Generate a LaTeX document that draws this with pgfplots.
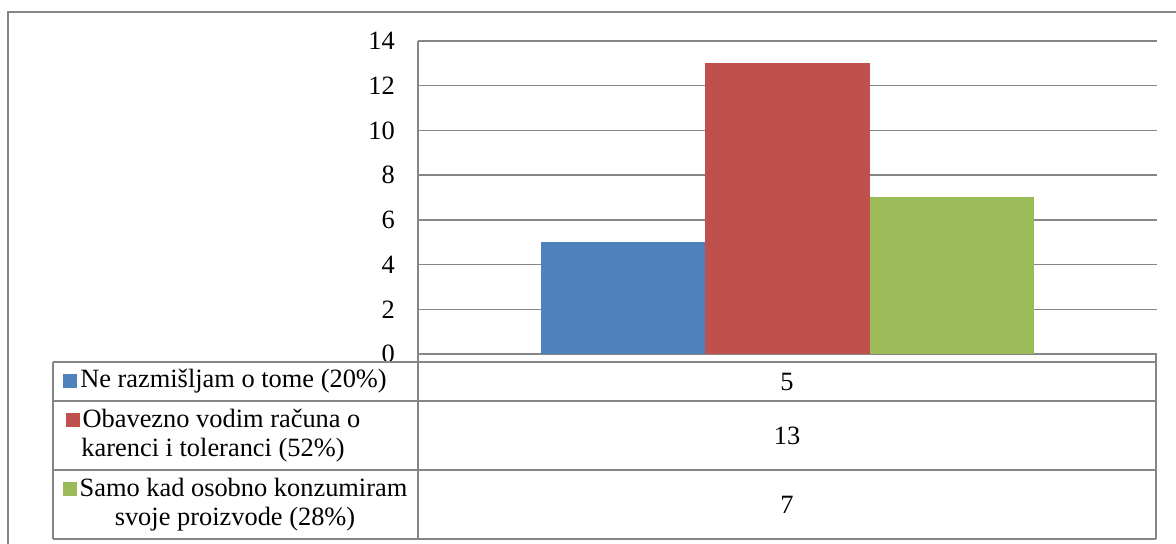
\documentclass[border=0pt]{standalone}
\usepackage{pgfplots}
\pgfplotsset{compat=1.18}
\usepackage{fontspec}
\setmainfont{Liberation Serif}
\definecolor{serA}{RGB}{79,129,189}
\definecolor{serB}{RGB}{192,80,77}
\definecolor{serC}{RGB}{155,187,89}
\definecolor{lin}{RGB}{134,134,134}
\newcommand{\key}[1]{\textcolor{#1}{\rule{14bp}{14bp}}\hspace{3bp}}
\begin{document}
\begin{tikzpicture}[every node/.style={font=\fontsize{26.5}{29}\selectfont}]
\useasboundingbox (0,0) rectangle (1176bp,544bp);
% outer chart frame (right and bottom edges are cut off)
\draw[lin, line width=1.5bp] (8bp,0) -- (8bp,532bp) -- (1176bp,532bp);
\begin{axis}[
  at={(418bp,190bp)}, anchor=south west,
  scale only axis, width=739bp, height=313bp,
  ybar=0pt, bar width=164.3bp,
  xmin=-0.5, xmax=0.5, ymin=0, ymax=14,
  xtick=\empty, ytick={0,2,...,14},
  axis x line*=bottom, axis y line*=left,
  major tick length=0pt,
  axis line style={lin, line width=1.5bp},
  ymajorgrids=true, grid style={lin, line width=1.5bp},
  /pgf/number format/assume math mode=true,
  yticklabel style={font=\fontsize{26.5}{29}\selectfont, anchor=east, inner sep=0pt, xshift=-23bp},
  clip=false,
]
\addplot[fill=serA, draw=none] coordinates {(0,5)};
\addplot[fill=serB, draw=none] coordinates {(0,13)};
\addplot[fill=serC, draw=none] coordinates {(0,7)};
\end{axis}
% data table
\begin{scope}[lin, line width=1.5bp]
\draw (53bp,182bp) -- (1156bp,182bp);
\draw (53bp,143bp) -- (1156bp,143bp);
\draw (53bp,74bp) -- (1156bp,74bp);
\draw (53bp,5bp) -- (1156bp,5bp);
\draw (53bp,182bp) -- (53bp,5bp);
\draw (418bp,190bp) -- (418bp,5bp);
\draw (1156bp,190bp) -- (1156bp,5bp);
\end{scope}
\node[align=center, inner sep=0pt] at (225bp,162.5bp) {\key{serA}Ne razmišljam o tome (20\%)};
\node[align=center, inner sep=0pt] at (213bp,108.5bp) {\key{serB}Obavezno vodim računa o\\karenci i toleranci (52\%)};
\node[align=center, inner sep=0pt] at (235bp,39.5bp) {\key{serC}Samo kad osobno konzumiram\\svoje proizvode (28\%)};
\node at (787bp,162.5bp) {5};
\node at (787bp,108.5bp) {13};
\node at (787bp,39.5bp) {7};
\end{tikzpicture}
\end{document}
